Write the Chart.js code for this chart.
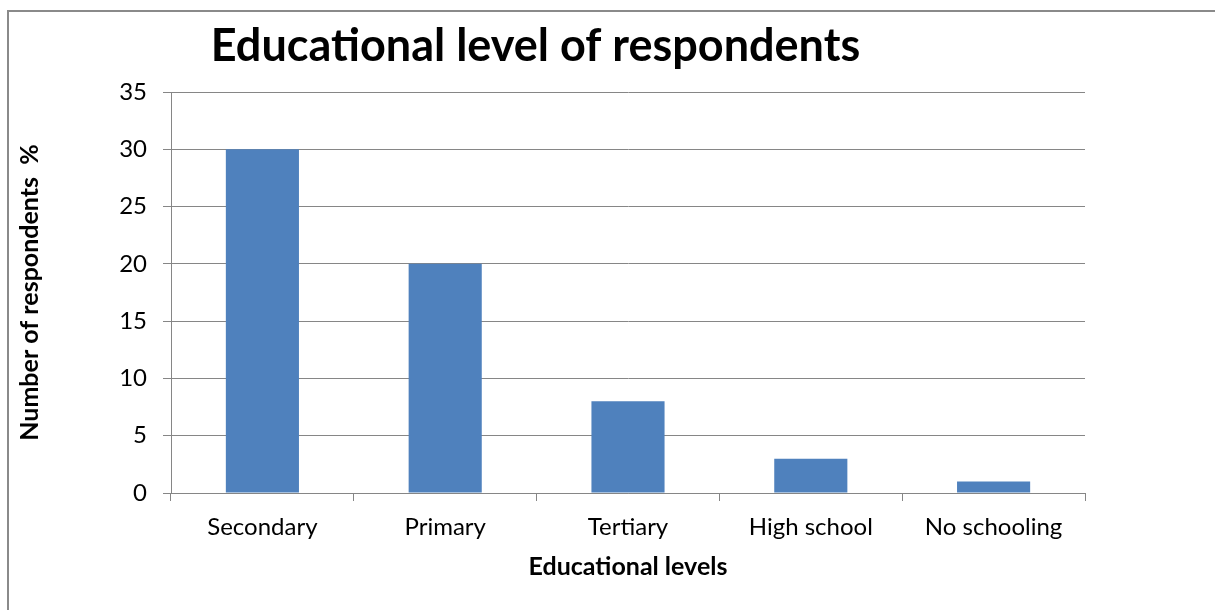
<!DOCTYPE html>
<html>
<head>
<meta charset="utf-8">
<script src="https://cdn.jsdelivr.net/npm/chart.js@4.4.0/dist/chart.umd.min.js"></script>
<style>
    html, body { margin: 0; padding: 0; background: #fff; overflow: hidden; }
    .frame {
        position: absolute; left: 7px; top: 10px; right: -4px; bottom: -4px;
        border-top: 2px solid #8a8a8a; border-left: 2px solid #8a8a8a;
    }
    /* canvas starts a little off-screen so the title sits left of the plot centre */
    .chart-wrap { position: absolute; left: -14px; top: 0; width: 1243px; height: 610px; }
</style>
</head>
<body>
<div class="frame"></div>
<div class="chart-wrap"><canvas id="eduChart"></canvas></div>
<script>
// Education levels and share of respondents (%)
const levels = ['Secondary', 'Primary', 'Tertiary', 'High school', 'No schooling'];
const respondents = [30, 20, 8, 3, 1];
const yTicks = [0, 5, 10, 15, 20, 25, 30, 35];

const lineGray = '#868686';
const fontFamily = 'Lato, "Open Sans", sans-serif';

new Chart(document.getElementById('eduChart'), {
    type: 'bar',
    data: {
        labels: levels,
        datasets: [{
            data: respondents,
            backgroundColor: '#4F81BD',
            borderWidth: 0,
            barPercentage: 0.4,
            categoryPercentage: 1.0
        }]
    },
    options: {
        responsive: true,
        maintainAspectRatio: false,
        animation: false,
        layout: { padding: { left: 0, right: 144, top: 0, bottom: 0 } },
        plugins: {
            legend: { display: false },
            tooltip: { enabled: false },
            title: {
                display: true,
                text: 'Educational level of respondents',
                color: '#000',
                font: { family: fontFamily, size: 45, weight: 'bold' },
                padding: { top: 19, bottom: 19 }
            }
        },
        scales: {
            x: {
                grid: { offset: true, drawOnChartArea: false, drawTicks: true, tickLength: 8, color: lineGray },
                border: { color: lineGray, width: 1 },
                ticks: { color: '#000', font: { family: fontFamily, size: 24 }, padding: 12 },
                title: {
                    display: true,
                    text: 'Educational levels',
                    color: '#000',
                    font: { family: fontFamily, size: 25, weight: 'bold' },
                    padding: { top: 4, bottom: 28 }
                },
                afterFit: s => { s.height = 117; }
            },
            y: {
                min: 0,
                max: 35,
                afterBuildTicks: s => { s.ticks = yTicks.map(v => ({ value: v })); },
                grid: { color: lineGray, tickLength: 8 },
                border: { color: lineGray, width: 1 },
                ticks: { color: '#000', font: { family: fontFamily, size: 24 }, padding: 16 },
                title: {
                    display: true,
                    text: 'Number of respondents  %',
                    color: '#000',
                    font: { family: fontFamily, size: 25, weight: 'bold' },
                    padding: { top: 29, bottom: 10 }
                },
                afterFit: s => { s.width = 185; }
            }
        }
    }
});
</script>
</body>
</html>
